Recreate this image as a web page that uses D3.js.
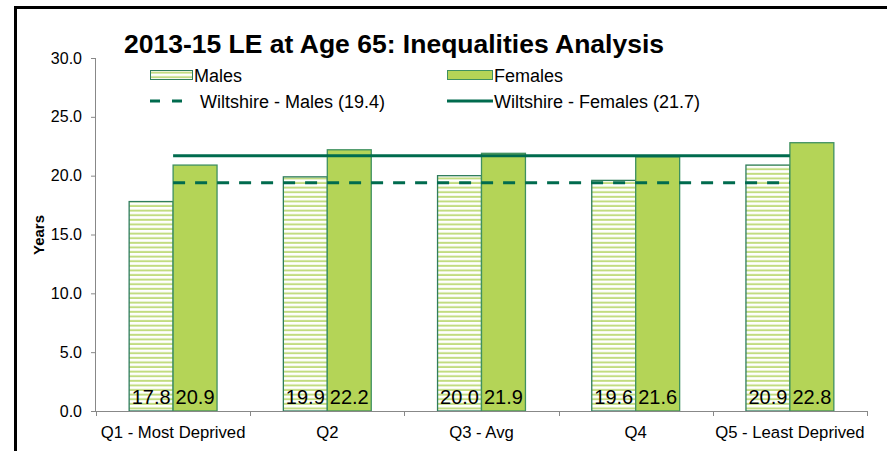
<!DOCTYPE html>
<html>
<head>
<meta charset="utf-8">
<script src="https://cdn.jsdelivr.net/npm/d3@7"></script>
<style>
  body { margin: 0; background: #fff; overflow: hidden; }
  svg { display: block; font-family: Arial, "Liberation Sans", sans-serif; }
</style>
</head>
<body>
<div id="chart"></div>
<script>
// chart data
const categories = ["Q1 - Most Deprived", "Q2", "Q3 - Avg", "Q4", "Q5 - Least Deprived"]
const males = [17.8, 19.9, 20.0, 19.6, 20.9]
const females = [20.9, 22.2, 21.9, 21.6, 22.8]
const wiltshire_males = 19.4
const wiltshire_females = 21.7
const y_ticks = [0, 5, 10, 15, 20, 25, 30]
const series_names = ["Males", "Females"]

const width = 887
const height = 451

const svg = d3.select("#chart").append("svg")
    .attr("width", width)
    .attr("height", height)

// stripes for males
const defs = svg.append("defs")
const pat = defs.append("pattern")
    .attr("id", "stripes")
    .attr("patternUnits", "userSpaceOnUse")
    .attr("width", 8).attr("height", 4.6)
pat.append("rect").attr("width", 8).attr("height", 4.6).attr("fill", "#ffffff")
pat.append("rect").attr("y", 2.6).attr("width", 8).attr("height", 2).attr("fill", "#c2dc80")

// outer frame (only left and top edges fall inside the picture)
svg.append("line")
    .attr("x1", 15.5).attr("x2", 15.5).attr("y1", 6).attr("y2", height)
    .attr("stroke", "#000").attr("stroke-width", 3)
svg.append("line")
    .attr("x1", 14).attr("x2", width).attr("y1", 7.5).attr("y2", 7.5)
    .attr("stroke", "#000").attr("stroke-width", 3)

const x = d3.scaleBand()
    .domain(categories)
    .range([96, 867])
    .paddingInner(0.43)
    .paddingOuter(0.215)

const xs = d3.scaleBand()
    .domain(series_names)
    .range([0, x.bandwidth()])

const y = d3.scaleLinear()
    .domain([0, 30])
    .range([411, 58])

// y axis
const yAxis = svg.append("g")
    .attr("transform", "translate(96,0)")
    .call(d3.axisLeft(y).tickValues(y_ticks).tickFormat(d3.format(".1f")).tickSize(5).tickPadding(9))
yAxis.select(".domain").attr("stroke", "#888").attr("d", "M-0.5,58V411.5")
yAxis.selectAll(".tick line").attr("stroke", "#888")
yAxis.selectAll(".tick text").attr("font-size", 16).attr("fill", "#000")
    .attr("font-family", "Arial, 'Liberation Sans', sans-serif")

svg.append("text")
    .attr("transform", "translate(44,235) rotate(-90)")
    .attr("text-anchor", "middle")
    .attr("font-size", 15)
    .attr("font-weight", "bold")
    .text("Years")

// bars
const groups = svg.selectAll(".grp")
    .data(categories)
    .join("g")
    .attr("class", "grp")
    .attr("transform", d => `translate(${x(d)},0)`)

groups.append("rect")
    .attr("x", xs("Males"))
    .attr("y", (d, i) => y(males[i]))
    .attr("width", xs.bandwidth())
    .attr("height", (d, i) => y(0) - y(males[i]))
    .attr("fill", "url(#stripes)")
    .attr("stroke", "#2f7d5c").attr("stroke-width", 1.3)

groups.append("rect")
    .attr("x", xs("Females"))
    .attr("y", (d, i) => y(females[i]))
    .attr("width", xs.bandwidth())
    .attr("height", (d, i) => y(0) - y(females[i]))
    .attr("fill", "#b4d457")
    .attr("stroke", "#3f9060").attr("stroke-width", 1.3)

// value labels
groups.append("text")
    .attr("x", xs("Males") + xs.bandwidth() / 2)
    .attr("y", 404)
    .attr("text-anchor", "middle")
    .attr("font-size", 20)
    .text((d, i) => males[i].toFixed(1))

groups.append("text")
    .attr("x", xs("Females") + xs.bandwidth() / 2)
    .attr("y", 404)
    .attr("text-anchor", "middle")
    .attr("font-size", 20)
    .text((d, i) => females[i].toFixed(1))

// x axis
svg.append("line")
    .attr("x1", 96).attr("x2", 867)
    .attr("y1", 411.5).attr("y2", 411.5)
    .attr("stroke", "#888")
const boundaries = categories.map((d, i) => 96 + i * x.step()).concat([867])
svg.selectAll(".xtick")
    .data(boundaries)
    .join("line")
    .attr("x1", d => Math.round(d) + 0.5).attr("x2", d => Math.round(d) + 0.5)
    .attr("y1", 411).attr("y2", 416)
    .attr("stroke", "#888")
svg.selectAll(".xlab")
    .data(categories)
    .join("text")
    .attr("x", d => x(d) + x.bandwidth() / 2)
    .attr("y", 438)
    .attr("text-anchor", "middle")
    .attr("font-size", 16.7)
    .text(d => d)

// Wiltshire reference lines
const line_x1 = x(categories[0]) + x.bandwidth() / 2
const line_x2 = x(categories[categories.length - 1]) + x.bandwidth() / 2
svg.append("line")
    .attr("x1", line_x1).attr("x2", line_x2)
    .attr("y1", y(wiltshire_females)).attr("y2", y(wiltshire_females))
    .attr("stroke", "#006b4e").attr("stroke-width", 3)
svg.append("line")
    .attr("x1", line_x1).attr("x2", line_x2)
    .attr("y1", y(wiltshire_males)).attr("y2", y(wiltshire_males))
    .attr("stroke", "#006b4e").attr("stroke-width", 3)
    .attr("stroke-dasharray", "12,10")

// title
svg.append("text")
    .attr("x", 394).attr("y", 53)
    .attr("text-anchor", "middle")
    .attr("font-size", 26.5)
    .attr("font-weight", "bold")
    .text("2013-15 LE at Age 65: Inequalities Analysis")

// legend
const leg = svg.append("g").attr("font-size", 18)
leg.append("rect").attr("x", 150.5).attr("y", 70.5).attr("width", 42).attr("height", 9)
    .attr("fill", "url(#stripes)").attr("stroke", "#2f7d5c")
leg.append("text").attr("x", 194).attr("y", 82).text("Males")
leg.append("rect").attr("x", 447.5).attr("y", 70.5).attr("width", 45).attr("height", 9)
    .attr("fill", "#b4d457").attr("stroke", "#3f9060")
leg.append("text").attr("x", 494).attr("y", 82).text("Females")
leg.append("line").attr("x1", 150).attr("x2", 193).attr("y1", 101).attr("y2", 101)
    .attr("stroke", "#006b4e").attr("stroke-width", 3).attr("stroke-dasharray", "10,12")
leg.append("text").attr("x", 200).attr("y", 108).text("Wiltshire - Males (19.4)")
leg.append("line").attr("x1", 447).attr("x2", 493).attr("y1", 101).attr("y2", 101)
    .attr("stroke", "#006b4e").attr("stroke-width", 3)
leg.append("text").attr("x", 494).attr("y", 108).text("Wiltshire - Females (21.7)")
</script>
</body>
</html>
